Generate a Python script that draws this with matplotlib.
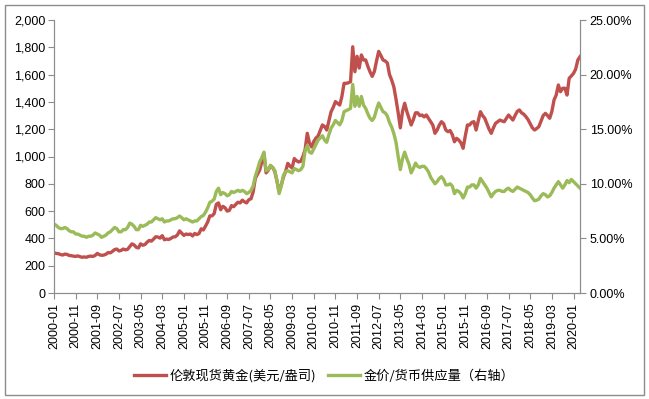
import pandas as pd
import matplotlib
matplotlib.use('Agg')
import matplotlib.pyplot as plt
from matplotlib.ticker import FuncFormatter, MultipleLocator
from matplotlib.patches import Rectangle

plt.rcParams['font.family'] = ['Liberation Sans', 'Noto Sans CJK SC', 'DejaVu Sans']

# monthly categories 2000-01 .. 2020-04
months = list(pd.period_range('2000-01', '2020-04', freq='M').strftime('%Y-%m'))

# London spot gold, USD/oz (left axis)
gold_price = [
    295, 290, 288, 282, 278, 285, 283, 275, 273, 270, 268, 272,
    266, 262, 264, 262, 268, 270, 268, 275, 290, 280, 276, 278,
    284, 296, 294, 305, 318, 322, 308, 312, 322, 316, 320, 340,
    360, 352, 335, 330, 360, 350, 355, 372, 385, 380, 395, 412,
    410, 402, 420, 390, 395, 392, 400, 410, 412, 425, 455, 438,
    422, 432, 428, 432, 418, 436, 428, 436, 470, 462, 490, 520,
    565, 565, 582, 650, 660, 610, 635, 625, 600, 605, 640, 632,
    650, 665, 660, 680, 668, 660, 684, 690, 740, 840, 870, 900,
    960, 1015, 880, 900, 930, 920, 890, 820, 745, 790, 850, 890,
    950, 930, 915, 985, 970, 960, 965, 1000, 1050, 1170, 1100, 1070,
    1110, 1135, 1150, 1190, 1231, 1220, 1194, 1260, 1328, 1360, 1402, 1390,
    1377, 1440, 1536, 1536, 1540, 1548, 1804, 1621, 1734, 1648, 1744, 1707,
    1707, 1660, 1620, 1587, 1623, 1700, 1770, 1740, 1707, 1700, 1685, 1600,
    1560, 1510, 1420, 1320, 1210, 1330, 1390, 1330, 1280, 1231, 1270, 1320,
    1320, 1300, 1304, 1290, 1304, 1280, 1255, 1230, 1170, 1194, 1230, 1255,
    1240, 1194, 1182, 1190, 1160, 1108, 1133, 1120, 1100, 1060, 1150, 1231,
    1231, 1250, 1255, 1194, 1260, 1328, 1300, 1280, 1240, 1200, 1170, 1210,
    1243, 1255, 1267, 1260, 1255, 1280, 1304, 1285, 1267, 1300, 1330, 1341,
    1320, 1310, 1292, 1270, 1240, 1210, 1194, 1205, 1219, 1260, 1300, 1316,
    1300, 1280, 1330, 1414, 1450, 1524, 1475, 1500, 1500, 1450, 1573, 1590,
    1609, 1640, 1707, 1731,
]

# gold price / money supply, % (right axis)
gold_to_money = [
    6.3, 6.2, 6.0, 5.9, 5.9, 6.0, 5.9, 5.7, 5.6, 5.6, 5.4, 5.4,
    5.3, 5.2, 5.2, 5.1, 5.2, 5.2, 5.3, 5.5, 5.4, 5.3, 5.1, 5.2,
    5.3, 5.5, 5.6, 5.8, 6.0, 5.9, 5.6, 5.6, 5.8, 5.8, 6.0, 6.4,
    6.3, 6.1, 5.8, 5.8, 6.2, 6.1, 6.2, 6.3, 6.5, 6.5, 6.7, 6.9,
    6.8, 6.7, 6.8, 6.5, 6.6, 6.6, 6.7, 6.8, 6.8, 6.9, 7.05, 6.9,
    6.7, 6.8, 6.7, 6.6, 6.5, 6.6, 6.6, 6.8, 7.0, 7.1, 7.4, 7.8,
    8.3, 8.4, 8.6, 9.3, 9.6, 9.0, 9.2, 9.1, 8.9, 9.0, 9.3, 9.2,
    9.3, 9.4, 9.3, 9.4, 9.3, 9.1, 9.2, 9.4, 9.8, 10.7, 11.3, 12.0,
    12.4, 12.9, 11.2, 11.3, 11.7, 11.5, 11.2, 10.3, 9.1, 9.8, 10.8, 11.1,
    11.2, 11.1, 11.0, 11.4, 11.3, 11.2, 11.3, 11.6, 13.0, 13.5, 12.9, 12.8,
    13.2, 13.6, 14.0, 14.2, 14.4, 14.0, 13.8, 14.5, 15.1, 15.4, 15.8, 15.6,
    15.4, 15.8, 16.6, 16.7, 16.8, 16.9, 19.1, 17.1, 18.0, 17.1, 18.0, 17.2,
    16.9, 16.4, 16.0, 15.8, 16.1, 16.8, 17.4, 17.0, 16.6, 16.5, 16.2, 15.6,
    15.2, 14.6, 13.8, 12.5, 11.3, 12.3, 12.9, 12.3, 11.8, 11.0, 11.4, 11.9,
    11.6, 11.5, 11.6, 11.6, 11.4, 11.1, 10.6, 10.3, 10.0, 10.2, 10.5, 10.65,
    10.4, 9.9, 9.9, 10.0, 9.8, 9.1, 9.4, 9.3, 9.1, 8.7, 9.1, 9.7,
    9.7, 9.9, 9.9, 9.6, 9.9, 10.5, 10.2, 9.9, 9.6, 9.2, 8.8, 9.1,
    9.3, 9.4, 9.4, 9.3, 9.3, 9.5, 9.6, 9.4, 9.3, 9.5, 9.7, 9.6,
    9.5, 9.4, 9.3, 9.2, 9.0, 8.7, 8.45, 8.5, 8.6, 8.9, 9.1, 9.0,
    8.8, 8.9, 9.2, 9.6, 9.9, 10.2, 9.9, 9.6, 9.9, 10.3, 10.1, 10.4,
    10.2, 10.0, 9.8, 9.6,
]

label_gold = '伦敦现货黄金(美元/盎司)'
label_ratio = '金价/货币供应量（右轴）'

red = '#C0504D'
green = '#9BBB59'
axis_grey = '#8C8C8C'

x = list(range(len(months)))

fig = plt.figure(figsize=(6.49, 3.99), dpi=100)
ax = fig.add_axes([54 / 649, 1 - 293 / 399, (580 - 54) / 649, (293 - 20) / 399])
ax2 = ax.twinx()

l1, = ax.plot(x, gold_price, color=red, lw=2.4, solid_joinstyle='round')
l2, = ax2.plot(x, gold_to_money, color=green, lw=2.4, solid_joinstyle='round')

ax.set_xlim(0, len(months) - 1)
ax.set_ylim(0, 2000)
ax2.set_ylim(0, 25)

ax.yaxis.set_major_locator(MultipleLocator(200))
ax.yaxis.set_major_formatter(FuncFormatter(lambda v, p: f'{v:,.0f}'))
ax2.yaxis.set_major_locator(MultipleLocator(5))
ax2.yaxis.set_major_formatter(FuncFormatter(lambda v, p: f'{v:.2f}%'))

ax.set_xticks(x[::10])
ax.set_xticklabels(months[::10], rotation=90)

for a in (ax, ax2):
    a.spines['top'].set_visible(False)
    for s in ('left', 'right', 'bottom'):
        a.spines[s].set_color(axis_grey)
    a.tick_params(colors=axis_grey, labelcolor='black', labelsize=9, length=4, width=0.8)
ax.tick_params(axis='x', pad=3)
ax.tick_params(axis='y', pad=2)
ax2.tick_params(axis='y', pad=3)

fig.legend([l1, l2], [label_gold, label_ratio], loc='center',
           bbox_to_anchor=(0.5, 1 - 376 / 399), ncol=2, frameon=False,
           handlelength=2.4, columnspacing=0.9, handletextpad=0.3,
           prop={'family': ['Noto Sans CJK SC', 'DejaVu Sans'], 'size': 9.5})

fig.patches.append(Rectangle((0.007, 0.01), 0.986, 0.978, transform=fig.transFigure,
                             fill=False, ec=axis_grey, lw=1.0))

fig.savefig('out.png', dpi=100)
